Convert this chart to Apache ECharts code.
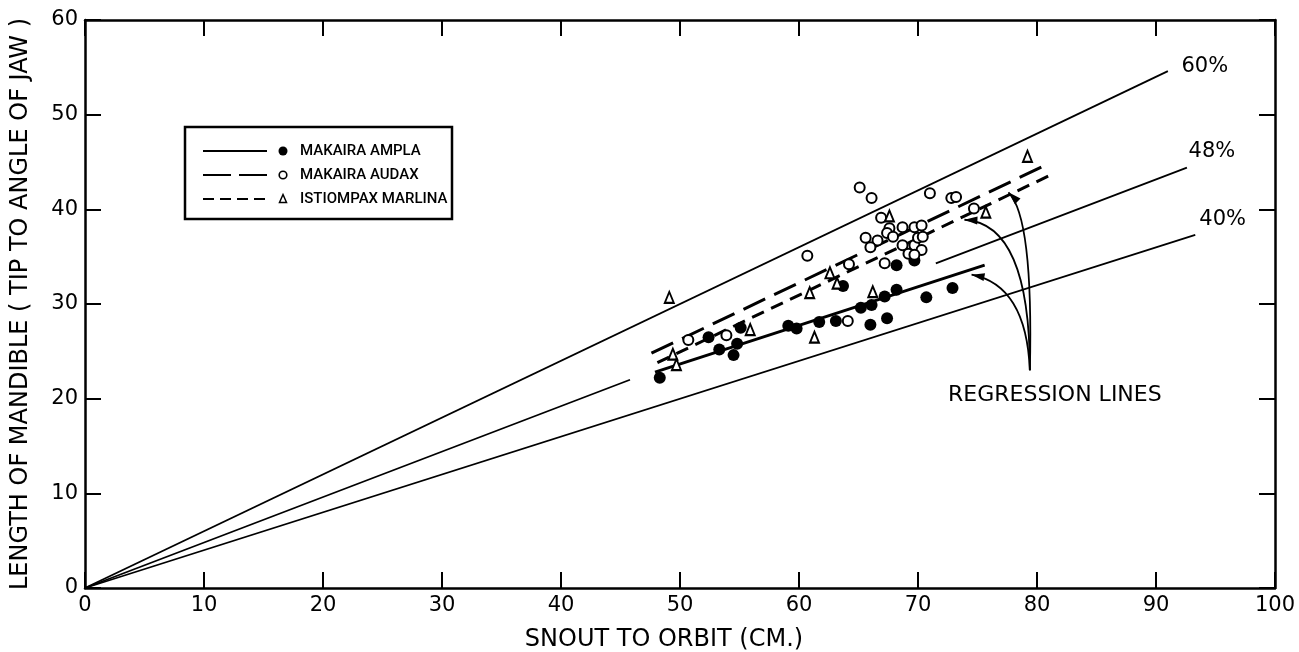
<!DOCTYPE html>
<html><head><meta charset="utf-8">
<script src="https://cdn.jsdelivr.net/npm/echarts@6/dist/echarts.min.js"></script>
<style>html,body{margin:0;padding:0;background:#fff}#c{width:1299px;height:652px}</style>
</head><body><div id="c"></div>
<script>
// ---- data ----
const xRange = [0, 100];
const yRange = [0, 60];
const xStep = 10;
const yStep = 10;
const seriesNames = ['MAKAIRA AMPLA', 'MAKAIRA AUDAX', 'ISTIOMPAX MARLINA'];
const amplaPts = [[48.3,22.2],[52.4,26.5],[53.3,25.2],[54.5,24.6],[54.8,25.8],[55.1,27.5],[59.1,27.7],[59.8,27.4],[61.7,28.1],[63.1,28.2],[63.7,31.9],[65.2,29.6],[66.1,29.9],[66.0,27.8],[67.2,30.8],[67.4,28.5],[68.2,31.5],[68.2,34.1],[69.7,34.6],[70.7,30.7],[72.9,31.7]];
const audaxPts = [[50.7,26.2],[53.9,26.7],[60.7,35.1],[64.1,28.2],[64.2,34.2],[67.2,34.3],[65.1,42.3],[66.1,41.2],[71.0,41.7],[72.8,41.2],[73.2,41.3],[74.7,40.1],[66.9,39.1],[67.6,38.0],[68.7,38.1],[69.7,38.1],[70.3,38.3],[65.6,37.0],[66.6,36.7],[67.4,37.5],[67.9,37.1],[66.0,36.0],[68.7,36.2],[69.7,36.2],[70.0,37.0],[70.4,37.1],[70.3,35.7],[69.2,35.3],[69.7,35.2]];
const marlinaPts = [[49.1,30.7],[49.4,24.7],[49.7,23.6],[55.9,27.3],[60.9,31.2],[61.3,26.5],[62.6,33.3],[63.2,32.2],[66.2,31.3],[67.6,39.3],[75.7,39.7],[79.2,45.6]];
const amplaReg = [[47.9,22.8],[75.6,34.1]];
const audaxReg = [[47.6,24.8],[81.1,44.9]];
const marlinaReg = [[48.1,23.8],[81.1,43.6]];
const line60 = [[0,0],[91,54.6]];
const line48a = [[0,0],[45.8,22.0]];
const line48b = [[71.5,34.3],[92.6,44.4]];
const line40 = [[0,0],[93.3,37.3]];
const pctLabels = ['60%', '48%', '40%'];
const pctAnchors = [[94.1,55.1],[94.7,46.1],[95.6,38.9]];
const regLabel = 'REGRESSION LINES';
const regAnchor = [81.5,20.4];
const arrowStart = [79.4,23.0];
const arrowEnds = [[77.6,41.8],[73.9,38.9],[74.5,33.1]];
const arrowCtrls = [[79.7,39.2],[79.4,38.5],[79.1,32.0]];
const xTitle = 'SNOUT TO ORBIT (CM.)';
const yTitle = 'LENGTH OF MANDIBLE ( TIP TO ANGLE OF JAW )';

const FONT = 'DejaVu Sans';
const chart = echarts.init(document.getElementById('c'), null, {renderer: 'canvas'});

function axisCommon(show) {
  return {
    axisLine: {show: true, onZero: false, lineStyle: {color: '#000', width: 2.5}},
    axisTick: {show: true, inside: true, length: 16, lineStyle: {color: '#000', width: 2}},
    splitLine: {show: false},
    axisLabel: {show: show, color: '#000', fontFamily: FONT, fontSize: 21, margin: 7}
  };
}
function lineSeries(data, width, type, z) {
  return {type: 'line', data: data, symbol: 'none', silent: true, z: z || 2,
    lineStyle: {color: '#000', width: width, type: type}, animation: false};
}

chart.setOption({
  animation: false,
  backgroundColor: '#fff',
  grid: {left: 85, right: 24, top: 20, bottom: 64, containLabel: false, outerBoundsMode: 'none'},
  xAxis: [
    Object.assign({type: 'value', min: xRange[0], max: xRange[1], interval: xStep, position: 'bottom',
      name: xTitle, nameLocation: 'middle', nameGap: 40,
      nameTextStyle: {color: '#000', fontFamily: FONT, fontSize: 24, padding: [0, 32, 0, 0]}}, axisCommon(true)),
    Object.assign({type: 'value', min: xRange[0], max: xRange[1], interval: xStep, position: 'top'}, axisCommon(false))
  ],
  yAxis: [
    Object.assign({type: 'value', min: yRange[0], max: yRange[1], interval: yStep, position: 'left',
      name: yTitle, nameLocation: 'middle', nameGap: 52,
      nameTextStyle: {color: '#000', fontFamily: FONT, fontSize: 24}}, axisCommon(true)),
    Object.assign({type: 'value', min: yRange[0], max: yRange[1], interval: yStep, position: 'right'}, axisCommon(false))
  ],
  series: [
    lineSeries(line60, 1.8, 'solid'),
    lineSeries(line48a, 1.8, 'solid'),
    lineSeries(line48b, 1.8, 'solid'),
    lineSeries(line40, 1.8, 'solid'),
    Object.assign(lineSeries(amplaReg, 3, 'solid', 3), {name: seriesNames[0] + ' regression'}),
    Object.assign(lineSeries(audaxReg, 3, [24, 10], 3), {name: seriesNames[1] + ' regression'}),
    Object.assign(lineSeries(marlinaReg, 3, [13, 8], 3), {name: seriesNames[2] + ' regression'}),
    {type: 'scatter', name: seriesNames[0], data: amplaPts, symbol: 'circle', symbolSize: 12, z: 5,
      itemStyle: {color: '#000', opacity: 1}},
    {type: 'scatter', name: seriesNames[1], data: audaxPts, symbol: 'emptyCircle', symbolSize: 10, z: 5,
      itemStyle: {color: '#000', borderColor: '#000', borderWidth: 2, opacity: 1}},
    {type: 'scatter', name: seriesNames[2], data: marlinaPts, symbol: 'emptyTriangle', symbolSize: [9, 11], z: 5,
      itemStyle: {color: '#000', borderColor: '#000', borderWidth: 2, opacity: 1}}
  ]
});

// ---- annotations (positions derived through the chart's scales) ----
const px = p => chart.convertToPixel({gridIndex: 0}, p);
const g = [];
pctLabels.forEach((t, i) => {
  const p = px(pctAnchors[i]);
  g.push({type: 'text', x: p[0], y: p[1], style: {text: t, fill: '#000', font: '21px "' + FONT + '"', textAlign: 'center', textVerticalAlign: 'middle'}});
});
const rp = px(regAnchor);
g.push({type: 'text', x: rp[0], y: rp[1], style: {text: regLabel, fill: '#000', font: '22px "' + FONT + '"', textAlign: 'center', textVerticalAlign: 'middle'}});
const s = px(arrowStart);
arrowEnds.forEach((e, i) => {
  const pe = px(e), pc = px(arrowCtrls[i]);
  g.push({type: 'bezierCurve', shape: {x1: s[0], y1: s[1], x2: pe[0], y2: pe[1], cpx1: pc[0], cpy1: pc[1]},
    style: {stroke: '#000', lineWidth: 1.8, fill: null}});
  const dx = pe[0] - pc[0], dy = pe[1] - pc[1], L = Math.hypot(dx, dy);
  const ux = dx / L, uy = dy / L, hl = 13, hw = 4;
  const bx = pe[0] - ux * hl, by = pe[1] - uy * hl;
  g.push({type: 'polygon', shape: {points: [[pe[0], pe[1]], [bx - uy * hw, by + ux * hw], [bx + uy * hw, by - ux * hw]]},
    style: {fill: '#000'}});
});
// legend box
const L0 = {x: 185, y: 127, w: 267, h: 92};
g.push({type: 'rect', shape: {x: L0.x, y: L0.y, width: L0.w, height: L0.h}, style: {stroke: '#000', lineWidth: 2.5, fill: '#fff'}, z: 10});
const rows = [151, 175, 199];
const dashes = [null, [28, 8], [11, 6]];
rows.forEach((ry, i) => {
  g.push({type: 'line', shape: {x1: 203, y1: ry, x2: 267, y2: ry}, style: {stroke: '#000', lineWidth: 2, lineDash: dashes[i]}, z: 11});
  if (i === 0) g.push({type: 'circle', shape: {cx: 283, cy: ry, r: 4.5}, style: {fill: '#000'}, z: 11});
  if (i === 1) g.push({type: 'circle', shape: {cx: 283, cy: ry, r: 3.8}, style: {fill: '#fff', stroke: '#000', lineWidth: 1.6}, z: 11});
  if (i === 2) g.push({type: 'polygon', shape: {points: [[283, ry - 4.5], [286.5, ry + 3.5], [279.5, ry + 3.5]]}, style: {fill: '#fff', stroke: '#000', lineWidth: 1.5}, z: 11});
  g.push({type: 'text', x: 300, y: ry, style: {text: seriesNames[i], fill: '#000', font: '500 15px Roboto, "DejaVu Sans"', textVerticalAlign: 'middle'}, z: 11});
});
chart.setOption({graphic: g});
</script>
</body></html>
